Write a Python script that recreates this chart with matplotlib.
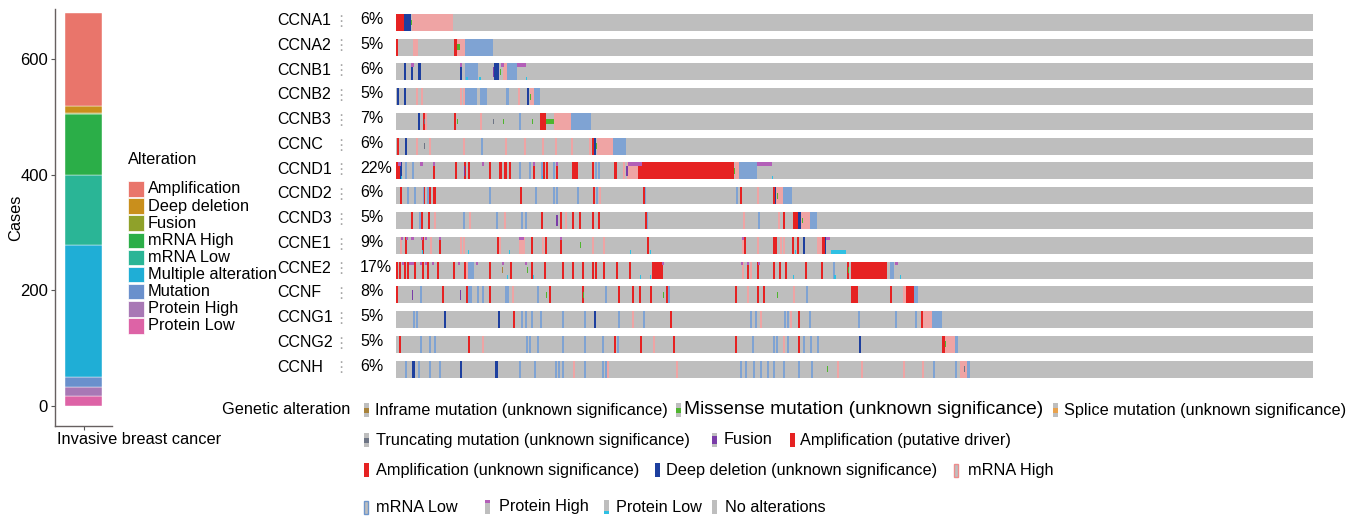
import matplotlib
matplotlib.use('Agg')
import matplotlib.pyplot as plt

plt.rcParams['font.family'] = ['Liberation Sans', 'DejaVu Sans']

# ---- left panel: cases per alteration class (legend order, top to bottom)
ALTERATIONS = ['Amplification', 'Deep deletion', 'Fusion', 'mRNA High', 'mRNA Low',
               'Multiple alteration', 'Mutation', 'Protein High', 'Protein Low']
CASES = [161, 12, 1, 105, 121, 229, 17, 16, 17]
ALT_COLORS = ['#E9756B', '#C98F1C', '#8FA12A', '#2BAE48', '#2AB596',
              '#1FAED6', '#6A90CC', '#A878B5', '#DD63A6']
BAR_TICKS = [0, 200, 400, 600]

# ---- oncoprint: (first sample, number of samples, alteration code)
GENES = ['CCNA1', 'CCNA2', 'CCNB1', 'CCNB2', 'CCNB3', 'CCNC', 'CCND1', 'CCND2',
         'CCND3', 'CCNE1', 'CCNE2', 'CCNF', 'CCNG1', 'CCNG2', 'CCNH']
PCT = ['6%', '5%', '6%', '5%', '7%', '6%', '22%', '6%', '5%', '9%', '17%', '8%', '5%', '5%', '6%']
N_SAMPLES = 917

CCNA1 = [(0, 8, 'A'), (8, 7, 'D'), (15, 1, 'M'), (16, 41, 'H')]
CCNA2 = [(0, 2, 'A'), (17, 5, 'H'), (58, 3, 'A'), (61, 8, 'H'), (61, 3, 'M'), (69, 28, 'L')]
CCNB1 = [(8, 2, 'D'), (15, 2, 'D'), (15, 3, 'P'), (22, 3, 'D'), (64, 2, 'D'), (64, 2, 'P'),
         (69, 13, 'L'), (70, 2, 'p'), (83, 2, 'p'), (97, 1, 'F'), (98, 5, 'D'), (104, 1, 'M'),
         (105, 3, 'P'), (107, 4, 'H'), (111, 10, 'L'), (121, 9, 'P'), (130, 1, 'p')]
CCNB2 = [(1, 2, 'D'), (8, 2, 'D'), (20, 2, 'H'), (25, 2, 'H'), (64, 2, 'H'), (67, 2, 'H'),
         (69, 12, 'L'), (84, 7, 'L'), (110, 3, 'L'), (122, 2, 'H'), (131, 2, 'D'), (134, 4, 'H'),
         (134, 1, 'M'), (138, 6, 'L')]
CCNB3 = [(22, 2, 'D'), (27, 2, 'A'), (28, 1, 'T'), (29, 2, 'H'), (58, 2, 'A'), (61, 1, 'M'),
         (84, 2, 'H'), (97, 1, 'T'), (107, 1, 'M'), (123, 2, 'L'), (136, 1, 'M'), (144, 6, 'A'),
         (150, 8, 'M'), (158, 17, 'H'), (175, 20, 'L')]
CCNC = [(1, 2, 'A'), (9, 2, 'D'), (20, 2, 'H'), (28, 1, 'T'), (33, 2, 'H'), (67, 2, 'H'),
        (85, 2, 'L'), (109, 2, 'H'), (128, 2, 'H'), (146, 2, 'H'), (159, 2, 'H'), (175, 2, 'H'),
        (193, 2, 'H'), (196, 3, 'A'), (198, 2, 'D'), (200, 1, 'M'), (201, 16, 'H'), (217, 13, 'L')]
CCND1 = [(0, 4, 'A'), (4, 2, 'D'), (2, 3, 'P'), (5, 1, 'p'), (9, 2, 'L'), (16, 2, 'L'),
         (24, 3, 'P'), (37, 2, 'A'), (37, 2, 'P'), (59, 2, 'A'), (68, 2, 'A'), (68, 1, 'F'),
         (72, 2, 'A'), (86, 2, 'P'), (93, 2, 'A'), (103, 3, 'A'), (108, 3, 'A'), (113, 2, 'A'),
         (123, 2, 'L'), (133, 2, 'L'), (137, 2, 'A'), (137, 2, 'P'), (145, 2, 'L'), (147, 2, 'A'),
         (146, 1, 'p'), (150, 2, 'A'), (157, 2, 'L'), (160, 2, 'A'), (160, 2, 'P'), (176, 6, 'A'),
         (196, 2, 'A'), (199, 2, 'L'), (202, 2, 'L'), (218, 3, 'A'), (227, 2, 'H'), (230, 2, 'F'),
         (231, 11, 'H'), (232, 14, 'P'), (242, 96, 'A'), (338, 1, 'M'), (339, 4, 'H'),
         (343, 18, 'L'), (361, 15, 'P'), (376, 1, 'p')]
CCND2 = [(4, 2, 'A'), (11, 2, 'L'), (18, 2, 'L'), (27, 2, 'L'), (28, 1, 'A'), (31, 2, 'L'),
         (33, 2, 'A'), (37, 3, 'A'), (93, 2, 'L'), (124, 2, 'A'), (139, 2, 'L'), (157, 2, 'L'),
         (160, 2, 'L'), (181, 2, 'L'), (197, 2, 'A'), (200, 2, 'L'), (203, 2, 'H'), (247, 2, 'A'),
         (249, 1, 'L'), (340, 2, 'L'), (344, 2, 'A'), (361, 2, 'H'), (377, 2, 'A'), (379, 1, 'D'),
         (380, 7, 'H'), (381, 1, 'M'), (387, 9, 'L')]
CCND3 = [(15, 2, 'A'), (23, 2, 'L'), (25, 2, 'A'), (32, 2, 'A'), (38, 2, 'H'), (67, 2, 'L'),
         (73, 2, 'H'), (100, 2, 'L'), (108, 2, 'H'), (125, 2, 'L'), (129, 2, 'L'), (145, 2, 'A'),
         (160, 2, 'F'), (164, 2, 'A'), (169, 2, 'H'), (176, 2, 'A'), (183, 2, 'A'), (196, 2, 'A'),
         (202, 2, 'A'), (249, 2, 'A'), (251, 1, 'L'), (347, 2, 'H'), (362, 2, 'L'), (382, 2, 'H'),
         (387, 2, 'A'), (397, 5, 'A'), (402, 3, 'D'), (405, 9, 'H'), (406, 1, 'M'), (414, 7, 'L')]
CCNE1 = [(4, 2, 'H'), (5, 2, 'P'), (9, 2, 'A'), (10, 2, 'P'), (15, 3, 'P'), (26, 2, 'A'),
         (25, 2, 'P'), (26, 1, 'p'), (29, 2, 'P'), (34, 2, 'H'), (43, 2, 'A'), (43, 2, 'P'),
         (64, 2, 'H'), (67, 2, 'H'), (72, 1, 'p'), (101, 2, 'A'), (103, 2, 'H'), (113, 1, 'p'),
         (123, 6, 'H'), (123, 5, 'P'), (135, 2, 'A'), (146, 2, 'H'), (149, 2, 'A'), (164, 2, 'A'),
         (164, 2, 'P'), (184, 1, 'M'), (196, 2, 'H'), (207, 2, 'H'), (234, 1, 'p'), (251, 2, 'A'),
         (254, 1, 'p'), (346, 2, 'H'), (346, 2, 'P'), (348, 2, 'A'), (361, 2, 'H'), (377, 2, 'A'),
         (379, 2, 'A'), (384, 2, 'H'), (387, 2, 'H'), (396, 2, 'A'), (399, 1, 'p'), (401, 2, 'A'),
         (407, 2, 'D'), (421, 5, 'H'), (426, 3, 'A'), (429, 1, 'D'), (430, 4, 'P'), (435, 15, 'p')]
CCNE2 = [(0, 2, 'A'), (3, 2, 'A'), (6, 2, 'P'), (8, 2, 'A'), (11, 2, 'A'), (13, 2, 'P'),
         (15, 3, 'P'), (18, 2, 'A'), (24, 2, 'P'), (26, 2, 'A'), (29, 2, 'P'), (31, 2, 'A'),
         (36, 2, 'P'), (41, 2, 'A'), (57, 2, 'A'), (62, 2, 'P'), (68, 2, 'A'), (70, 2, 'H'),
         (72, 6, 'L'), (80, 2, 'P'), (93, 2, 'A'), (106, 1, 'I'), (106, 2, 'P'), (111, 1, 'p'),
         (114, 2, 'A'), (129, 2, 'P'), (131, 1, 'M'), (135, 2, 'A'), (137, 1, 'p'), (148, 2, 'A'),
         (166, 2, 'A'), (176, 2, 'A'), (186, 2, 'A'), (196, 2, 'A'), (199, 2, 'A'), (207, 2, 'A'),
         (220, 2, 'A'), (233, 2, 'A'), (244, 1, 'p'), (254, 1, 'p'), (256, 11, 'A'), (266, 2, 'P'),
         (345, 2, 'P'), (346, 2, 'H'), (351, 2, 'A'), (351, 2, 'P'), (354, 2, 'H'), (361, 2, 'A'),
         (362, 2, 'P'), (377, 2, 'A'), (383, 2, 'A'), (389, 2, 'A'), (397, 1, 'p'), (409, 2, 'A'),
         (425, 2, 'A'), (437, 2, 'L'), (438, 2, 'p'), (451, 2, 'A'), (452, 1, 'M'), (455, 36, 'A'),
         (494, 4, 'L'), (499, 3, 'P'), (504, 1, 'p')]
CCNF = [(0, 2, 'A'), (16, 1, 'F'), (24, 2, 'L'), (46, 2, 'A'), (64, 1, 'F'), (70, 2, 'A'),
        (72, 4, 'L'), (81, 2, 'L'), (86, 2, 'L'), (93, 2, 'A'), (109, 4, 'L'), (116, 2, 'H'),
        (141, 2, 'L'), (150, 1, 'M'), (153, 2, 'A'), (186, 2, 'A'), (187, 1, 'M'), (209, 2, 'L'),
        (222, 2, 'A'), (236, 2, 'A'), (243, 2, 'A'), (254, 2, 'A'), (267, 1, 'M'), (270, 2, 'A'),
        (272, 2, 'L'), (339, 2, 'A'), (351, 2, 'H'), (361, 2, 'A'), (367, 2, 'A'), (381, 1, 'M'),
        (397, 2, 'H'), (410, 2, 'L'), (455, 7, 'A'), (494, 2, 'A'), (507, 4, 'H'), (510, 8, 'A'),
        (518, 4, 'L')]
CCNG1 = [(17, 2, 'L'), (20, 2, 'L'), (48, 2, 'D'), (102, 2, 'D'), (117, 2, 'A'), (125, 2, 'L'),
         (129, 2, 'L'), (135, 2, 'L'), (144, 2, 'L'), (166, 2, 'L'), (188, 2, 'L'), (198, 2, 'D'),
         (222, 2, 'L'), (236, 2, 'H'), (247, 2, 'L'), (274, 2, 'A'), (354, 2, 'L'), (359, 2, 'L'),
         (364, 2, 'H'), (388, 2, 'L'), (391, 2, 'L'), (394, 2, 'H'), (402, 2, 'A'), (413, 2, 'L'),
         (462, 2, 'L'), (499, 2, 'L'), (519, 2, 'L'), (525, 2, 'A'), (527, 9, 'H'), (536, 10, 'L')]
CCNG2 = [(3, 2, 'A'), (24, 2, 'L'), (33, 2, 'L'), (38, 2, 'L'), (72, 2, 'A'), (86, 2, 'H'),
         (130, 2, 'L'), (133, 2, 'L'), (141, 2, 'L'), (166, 2, 'L'), (188, 2, 'L'), (206, 2, 'L'),
         (218, 2, 'A'), (221, 2, 'L'), (244, 2, 'A'), (257, 2, 'H'), (277, 2, 'A'), (339, 2, 'A'),
         (356, 2, 'L'), (377, 2, 'L'), (380, 2, 'L'), (387, 2, 'H'), (391, 2, 'L'), (402, 2, 'A'),
         (407, 2, 'L'), (414, 2, 'L'), (421, 2, 'L'), (463, 2, 'D'), (546, 3, 'A'), (549, 10, 'H'),
         (549, 1, 'M'), (559, 3, 'L')]
CCNH = [(9, 2, 'L'), (16, 3, 'D'), (22, 2, 'L'), (33, 2, 'L'), (43, 2, 'L'), (64, 2, 'D'),
        (99, 3, 'D'), (123, 2, 'L'), (138, 2, 'L'), (159, 2, 'L'), (162, 2, 'L'), (166, 2, 'L'),
        (177, 2, 'H'), (188, 2, 'L'), (206, 2, 'L'), (209, 2, 'L'), (211, 2, 'H'), (280, 2, 'H'),
        (344, 2, 'L'), (349, 2, 'L'), (357, 2, 'L'), (364, 2, 'L'), (371, 2, 'L'), (377, 2, 'L'),
        (387, 2, 'L'), (402, 2, 'L'), (415, 2, 'L'), (431, 1, 'M'), (441, 2, 'H'), (465, 2, 'H'),
        (507, 2, 'H'), (526, 2, 'H'), (537, 2, 'L'), (559, 2, 'L'), (564, 7, 'H'), (568, 1, 'T'),
        (571, 3, 'L')]
EVENTS = [CCNA1, CCNA2, CCNB1, CCNB2, CCNB3, CCNC, CCND1, CCND2,
          CCND3, CCNE1, CCNE2, CCNF, CCNG1, CCNG2, CCNH]

# style per alteration code: colour, relative height, placement
GRAY = '#BEBEBE'
STYLE = {
    'H': ('#EFA4A4', 1.0, 'mid'),
    'L': ('#7FA3D3', 1.0, 'mid'),
    'A': ('#E62222', 1.0, 'mid'),
    'D': ('#1D3F9E', 1.0, 'mid'),
    'F': ('#7A3CA8', 0.6, 'mid'),
    'M': ('#4FB52E', 0.33, 'mid'),
    'T': ('#6E7585', 0.33, 'mid'),
    'I': ('#A8823A', 0.33, 'mid'),
    'P': ('#B35FB8', 0.22, 'top'),
    'p': ('#2FC0E3', 0.22, 'bottom'),
}
DRAW_ORDER = ['H', 'L', 'A', 'D', 'F', 'M', 'T', 'I', 'P', 'p']

W, H = 1363, 519
fig = plt.figure(figsize=(W / 100, H / 100), dpi=100)


def px_axes(left, top, right, bottom):
    return fig.add_axes([left / W, 1 - bottom / H, (right - left) / W, (bottom - top) / H])


# ---------------- stacked bar
ax = px_axes(55, 9, 112, 426)
bottom = 0
for name, val, col in reversed(list(zip(ALTERATIONS, CASES, ALT_COLORS))):
    ax.bar(0, val, bottom=bottom, width=0.9, color=col, edgecolor='white', linewidth=0.3)
    bottom += val
ax.set_xlim(-0.705, 0.681)
ax.set_ylim(-34, 686)
ax.set_yticks(BAR_TICKS)
ax.set_xticks([0], [''])
ax.tick_params(labelsize=12, length=3, width=0.8, color='#555555', pad=2)
for s in ['top', 'right']:
    ax.spines[s].set_visible(False)
for s in ['left', 'bottom']:
    ax.spines[s].set_color('#666060')
    ax.spines[s].set_linewidth(1.0)
ax.set_ylabel('Cases', fontsize=11.8)
ax.yaxis.set_label_coords(-0.56, 0.5)
fig.text(57 / W, 1 - 440 / H, 'Invasive breast cancer', fontsize=11.8, ha='left', va='center')

# ---------------- legend of left panel
lax = px_axes(120, 145, 300, 340)
lax.set_xlim(120, 300)
lax.set_ylim(340, 145)
lax.axis('off')
lax.text(128, 160, 'Alteration', fontsize=11.8, ha='left', va='center')
for i, (name, col) in enumerate(zip(ALTERATIONS, ALT_COLORS)):
    yc = 189 + 17.12 * i
    lax.barh(yc, 16, left=128, height=15.5, color=col, edgecolor='white', linewidth=0.5)
    lax.text(148, yc, name, fontsize=11.8, ha='left', va='center')

# ---------------- oncoprint
op = px_axes(396, 10.1, 1313, 381.4)
op.set_xlim(0, N_SAMPLES)
op.set_ylim(len(GENES) - 0.5, -0.5)
op.axis('off')
BAR_H = 0.687
rows = list(range(len(GENES)))
op.barh(rows, N_SAMPLES, left=0, height=BAR_H, color=GRAY, linewidth=0)
for code in DRAW_ORDER:
    col, rel, place = STYLE[code]
    h = BAR_H * rel
    ys, xs, ws = [], [], []
    for r, events in enumerate(EVENTS):
        for start, n, c in events:
            if c != code:
                continue
            if place == 'top':
                yc = r - BAR_H / 2 + h / 2
            elif place == 'bottom':
                yc = r + BAR_H / 2 - h / 2
            else:
                yc = r
            ys.append(yc)
            xs.append(start)
            ws.append(n)
    if ys:
        op.barh(ys, ws, left=xs, height=h, color=col, linewidth=0)

for r, (g, pc) in enumerate(zip(GENES, PCT)):
    op.text(-119, r - 0.08, g, fontsize=11.5, ha='left', va='center', clip_on=False)
    op.text(-55, r - 0.05, '\u22ee', fontsize=11, ha='center', va='center', color='#A8A8A8',
            family='DejaVu Sans', clip_on=False)
    op.text(-36, r - 0.12, pc, fontsize=11.5, ha='left', va='center', clip_on=False)

# ---------------- genetic alteration legend
bl = px_axes(0, 395, W, H)
bl.set_xlim(0, W)
bl.set_ylim(H, 395)
bl.axis('off')
bl.text(222, 410, 'Genetic alteration', fontsize=11.7, ha='left', va='center')

LEGEND_ITEMS = [
    (366, 375, 410, 'I', 'Inframe mutation (unknown significance)', 11.7),
    (678, 684, 410, 'M', 'Missense mutation (unknown significance)', 13.8),
    (1055, 1064, 410, 'S', 'Splice mutation (unknown significance)', 11.7),
    (366, 376, 440, 'T', 'Truncating mutation (unknown significance)', 11.7),
    (714, 724, 440, 'F', 'Fusion', 11.7),
    (792, 800, 440, 'A', 'Amplification (putative driver)', 11.7),
    (366, 376, 470, 'a', 'Amplification (unknown significance)', 11.7),
    (657, 666, 470, 'D', 'Deep deletion (unknown significance)', 11.7),
    (956, 968, 470, 'H', 'mRNA High', 11.7),
    (366, 376, 507, 'L', 'mRNA Low', 11.7),
    (487, 499, 507, 'P', 'Protein High', 11.7),
    (606, 616, 507, 'p', 'Protein Low', 11.7),
    (714, 725, 507, 'N', 'No alterations', 11.7),
]
MID_COLORS = {'I': '#A8823A', 'M': '#4FB52E', 'S': '#E8A24E', 'T': '#6E7585', 'F': '#7A3CA8'}
for gx, tx, yc, kind, label, fs in LEGEND_ITEMS:
    if kind in ('A', 'a'):
        bl.bar(gx, 14, width=5, bottom=yc - 7, color='#E62222', linewidth=0)
    elif kind == 'D':
        bl.bar(gx, 14, width=5, bottom=yc - 7, color='#1D3F9E', linewidth=0)
    elif kind == 'H':
        bl.bar(gx, 13, width=4, bottom=yc - 6.5, color=GRAY, edgecolor='#EE8C8C', linewidth=1.0)
    elif kind == 'L':
        bl.bar(gx, 13, width=4, bottom=yc - 6.5, color=GRAY, edgecolor='#6E96CC', linewidth=1.0)
    else:
        bl.bar(gx, 14, width=5, bottom=yc - 7, color=GRAY, linewidth=0)
        if kind in MID_COLORS:
            hh = 8 if kind == 'F' else 5
            bl.bar(gx, hh, width=5, bottom=yc - hh / 2, color=MID_COLORS[kind], linewidth=0)
        elif kind == 'P':
            bl.bar(gx, 3, width=5, bottom=yc - 7, color='#B35FB8', linewidth=0)
        elif kind == 'p':
            bl.bar(gx, 3, width=5, bottom=yc + 4, color='#2FC0E3', linewidth=0)
    bl.text(tx, yc, label, fontsize=fs, ha='left', va='center')

fig.savefig('out.png', dpi=100)
